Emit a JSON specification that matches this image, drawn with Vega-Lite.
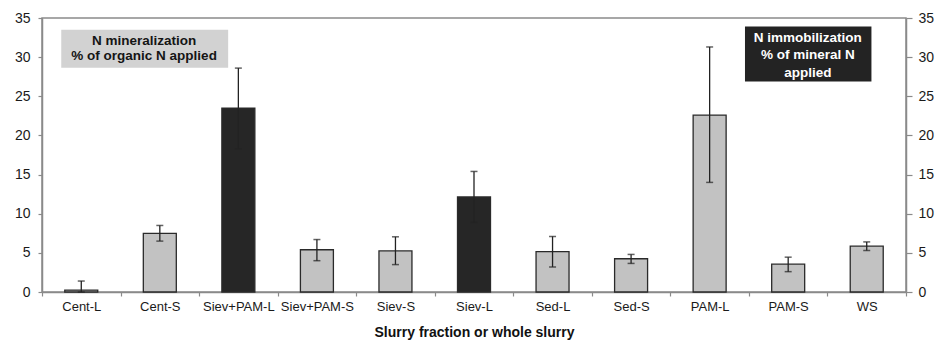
{
  "$schema": "https://vega.github.io/schema/vega-lite/v6.json",
  "width": 864,
  "height": 274,
  "autosize": "none",
  "padding": {"left": 42, "top": 18, "right": 29, "bottom": 49},
  "background": "white",
  "config": {
    "font": "Liberation Sans",
    "view": {"stroke": "#8a8a8a", "strokeWidth": 1.5},
    "axis": {"grid": false, "domainColor": "#8a8a8a", "domainWidth": 1.5, "tickColor": "#8a8a8a", "tickWidth": 1.2, "labelColor": "#1a1a1a", "labelFont": "Liberation Sans", "titleFont": "Liberation Sans"}
  },
  "datasets": {
    "bars": [
      {"cat": "Cent-L", "value": 0.25, "lo": 0.0, "hi": 1.4, "kind": "min"},
      {"cat": "Cent-S", "value": 7.5, "lo": 6.5, "hi": 8.5, "kind": "min"},
      {"cat": "Siev+PAM-L", "value": 23.5, "lo": 18.3, "hi": 28.6, "kind": "imm"},
      {"cat": "Siev+PAM-S", "value": 5.4, "lo": 4.0, "hi": 6.7, "kind": "min"},
      {"cat": "Siev-S", "value": 5.25, "lo": 3.5, "hi": 7.05, "kind": "min"},
      {"cat": "Siev-L", "value": 12.15, "lo": 8.9, "hi": 15.4, "kind": "imm"},
      {"cat": "Sed-L", "value": 5.15, "lo": 3.2, "hi": 7.1, "kind": "min"},
      {"cat": "Sed-S", "value": 4.25, "lo": 3.65, "hi": 4.8, "kind": "min"},
      {"cat": "PAM-L", "value": 22.6, "lo": 14.0, "hi": 31.3, "kind": "min"},
      {"cat": "PAM-S", "value": 3.55, "lo": 2.6, "hi": 4.45, "kind": "min"},
      {"cat": "WS", "value": 5.85, "lo": 5.3, "hi": 6.4, "kind": "min"}
    ],
    "boxes": [
      {"x1": 0.245, "x2": 2.37, "y1": 33.5, "y2": 28.66, "kind": "min"},
      {"x1": 8.95, "x2": 10.56, "y1": 33.9, "y2": 26.9, "kind": "imm"}
    ],
    "labels": [
      {"tx": 1.30, "ty": 31.55, "text": "N mineralization", "kind": "min"},
      {"tx": 1.30, "ty": 29.62, "text": "% of organic N applied", "kind": "min"},
      {"tx": 9.75, "ty": 31.95, "text": "N immobilization", "kind": "imm"},
      {"tx": 9.75, "ty": 29.72, "text": "% of mineral N", "kind": "imm"},
      {"tx": 9.75, "ty": 27.5, "text": "applied", "kind": "imm"}
    ]
  },
  "layer": [
    {
      "data": {"name": "bars"},
      "encoding": {
        "x": {
          "field": "cat", "type": "nominal", "sort": null,
          "scale": {"paddingInner": 0, "paddingOuter": 0},
          "axis": {"title": "Slurry fraction or whole slurry", "titleFontSize": 14, "titleFontWeight": "bold", "titleColor": "#111", "titlePadding": 12, "labelFontSize": 13, "labelAngle": 0, "labelPadding": 4, "tickBand": "extent", "tickSize": 4}
        }
      },
      "layer": [
        {
          "mark": {"type": "bar", "width": {"band": 0.42}, "stroke": "#2a2a2a", "strokeWidth": 1.3},
          "encoding": {
            "y": {"field": "value", "type": "quantitative", "scale": {"domain": [0, 35], "nice": false}, "axis": {"title": null, "orient": "left", "values": [0, 5, 10, 15, 20, 25, 30, 35], "labelOverlap": false, "labelFontSize": 14, "tickSize": 4, "labelPadding": 8}},
            "fill": {"field": "kind", "type": "nominal", "scale": {"domain": ["min", "imm"], "range": ["#c2c2c2", "#262626"]}, "legend": null}
          }
        },
        {
          "mark": {"type": "rule", "color": "#222", "strokeWidth": 1.3},
          "encoding": {
            "y": {"field": "lo", "type": "quantitative", "scale": {"domain": [0, 35], "nice": false}, "axis": {"title": null, "orient": "left", "values": [0, 5, 10, 15, 20, 25, 30, 35], "labelOverlap": false, "labelFontSize": 14, "tickSize": 4, "labelPadding": 8}},
            "y2": {"field": "hi"}
          }
        },
        {
          "mark": {"type": "tick", "color": "#222", "size": 7, "thickness": 1.5, "orient": "horizontal"},
          "encoding": {"y": {"field": "hi", "type": "quantitative", "scale": {"domain": [0, 35], "nice": false}, "axis": {"title": null, "orient": "left", "values": [0, 5, 10, 15, 20, 25, 30, 35], "labelOverlap": false, "labelFontSize": 14, "tickSize": 4, "labelPadding": 8}}}
        },
        {
          "mark": {"type": "tick", "color": "#222", "size": 7, "thickness": 1.5, "orient": "horizontal"},
          "encoding": {"y": {"field": "lo", "type": "quantitative", "scale": {"domain": [0, 35], "nice": false}, "axis": {"title": null, "orient": "left", "values": [0, 5, 10, 15, 20, 25, 30, 35], "labelOverlap": false, "labelFontSize": 14, "tickSize": 4, "labelPadding": 8}}}
        }
      ]
    },
    {
      "layer": [
        {
          "data": {"name": "boxes"},
          "mark": {"type": "rect"},
          "encoding": {
            "x": {"field": "x1", "type": "quantitative", "scale": {"domain": [0, 11], "nice": false}, "axis": null},
            "x2": {"field": "x2"},
            "y": {"field": "y1", "type": "quantitative", "scale": {"domain": [0, 35], "nice": false}, "axis": {"title": null, "orient": "right", "values": [0, 5, 10, 15, 20, 25, 30, 35], "labelOverlap": false, "labelFontSize": 14, "tickSize": 6, "labelPadding": 6}},
            "y2": {"field": "y2"},
            "fill": {"field": "kind", "type": "nominal", "scale": {"domain": ["min", "imm"], "range": ["#d2d2d2", "#232323"]}, "legend": null}
          }
        },
        {
          "data": {"name": "labels"},
          "mark": {"type": "text", "fontSize": 13.5, "fontWeight": "bold", "align": "center", "baseline": "alphabetic"},
          "encoding": {
            "x": {"field": "tx", "type": "quantitative", "scale": {"domain": [0, 11], "nice": false}, "axis": null},
            "y": {"field": "ty", "type": "quantitative", "scale": {"domain": [0, 35], "nice": false}, "axis": {"title": null, "orient": "right", "values": [0, 5, 10, 15, 20, 25, 30, 35], "labelOverlap": false, "labelFontSize": 14, "tickSize": 6, "labelPadding": 6}},
            "text": {"field": "text"},
            "color": {"field": "kind", "type": "nominal", "scale": {"domain": ["min", "imm"], "range": ["#151515", "#ffffff"]}, "legend": null}
          }
        }
      ]
    }
  ],
  "resolve": {"scale": {"x": "independent", "y": "independent", "fill": "independent", "color": "independent"}}
}
